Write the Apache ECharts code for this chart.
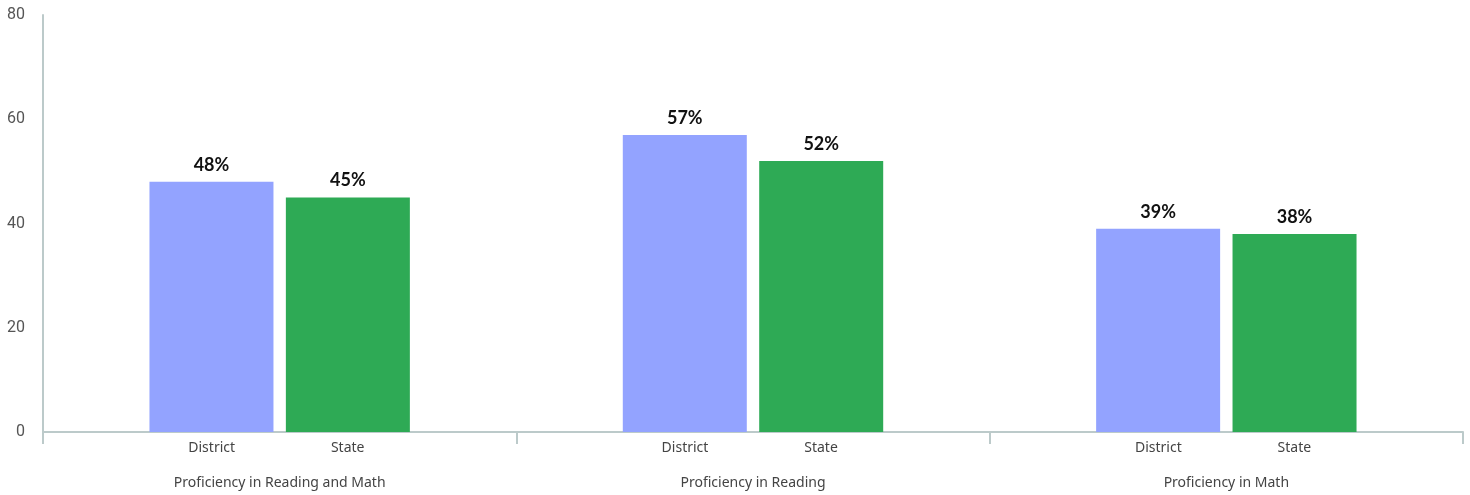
<!DOCTYPE html>
<html>
<head>
<meta charset="utf-8">
<script src="https://cdn.jsdelivr.net/npm/echarts@6/dist/echarts.min.js"></script>
<style>
  html, body { margin: 0; padding: 0; background: #fff; }
  #chart { width: 1470px; height: 495px; }
</style>
</head>
<body>
<div id="chart"></div>
<script>
var groups = ['Proficiency in Reading and Math', 'Proficiency in Reading', 'Proficiency in Math'];
var seriesNames = ['District', 'State'];
var districtValues = [48, 57, 39];
var stateValues = [45, 52, 38];
var yTicks = [0, 20, 40, 60, 80];
var colors = ['#93a3ff', '#2eaa55'];

var app = echarts.init(document.getElementById('chart'));

// 分组标签：上行是系列名，下行是分组名
function groupLabel(name) {
    return '{a|' + seriesNames[0] + '}{b|' + seriesNames[1] + '}\n{g|' + name + '}';
}

function makeSeries(name, data, color) {
    return {
        name: name,
        type: 'bar',
        data: data,
        barWidth: 124,
        barGap: '10%',
        itemStyle: { color: color },
        label: {
            show: true,
            position: 'top',
            distance: 8,
            formatter: '{c}%',
            color: '#111',
            fontFamily: 'Lato',
            fontWeight: 'bold',
            fontSize: 18
        }
    };
}

var option = {
    animation: false,
    grid: { left: 43, right: 7, top: 15, bottom: 63 },
    xAxis: {
        type: 'category',
        data: groups,
        axisLine: { lineStyle: { color: '#bccaca', width: 2 } },
        axisTick: { show: true, length: 12, lineStyle: { color: '#bccaca', width: 2 } },
        axisLabel: {
            margin: 7,
            formatter: groupLabel,
            color: '#444',
            fontFamily: 'Noto Sans',
            fontSize: 14,
            rich: {
                a: { width: 136, align: 'center', fontSize: 14, color: '#444', fontFamily: 'Noto Sans', lineHeight: 18 },
                b: { width: 136, align: 'center', fontSize: 14, color: '#444', fontFamily: 'Noto Sans', lineHeight: 18 },
                g: { fontSize: 14, color: '#444', fontFamily: 'Noto Sans', lineHeight: 18, padding: [35, 0, 0, 0] }
            }
        }
    },
    yAxis: {
        type: 'value',
        min: yTicks[0],
        max: yTicks[yTicks.length - 1],
        interval: 20,
        axisLine: { show: true, lineStyle: { color: '#bccaca', width: 2 } },
        axisTick: { show: false },
        splitLine: { show: false },
        axisLabel: {
            margin: 18,
            color: '#555',
            fontFamily: 'Roboto',
            fontSize: 16
        }
    },
    series: [
        makeSeries(seriesNames[0], districtValues, colors[0]),
        makeSeries(seriesNames[1], stateValues, colors[1])
    ]
};
app.setOption(option);
</script>
</body>
</html>
